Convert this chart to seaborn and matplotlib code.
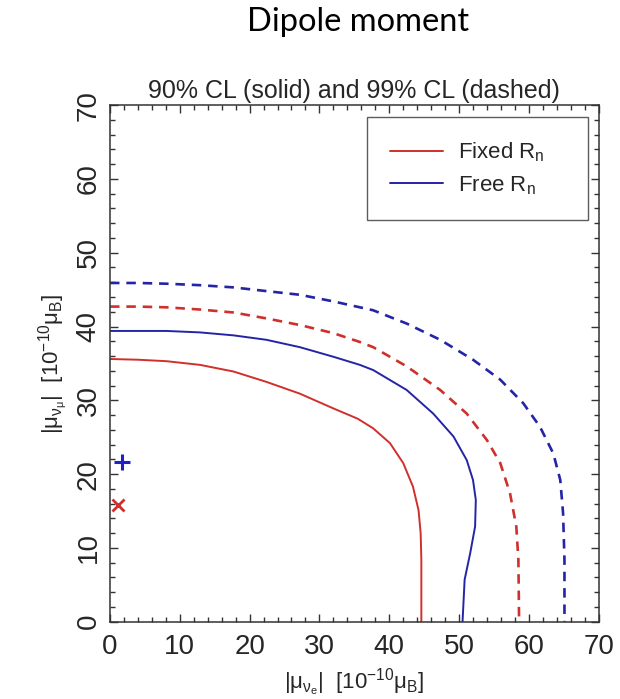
import numpy as np
import pandas as pd
import matplotlib
matplotlib.use("Agg")
import matplotlib.pyplot as plt
from matplotlib.lines import Line2D
from matplotlib.ticker import MultipleLocator
import seaborn as sns

# Allowed-region contours in the (|mu_nu_e|, |mu_nu_mu|) plane, units of 1e-10 mu_B
fixed90_x = [0, 4, 8.1, 12.9, 17.7, 22.4, 27.2, 32.0, 35.5, 37.7, 40.1, 42.0, 43.4, 44.2, 44.5, 44.6, 44.6]
fixed90_y = [35.6, 35.5, 35.3, 34.8, 33.9, 32.5, 30.9, 28.9, 27.5, 26.2, 24.2, 21.5, 18.3, 15.1, 12.0, 8.4, 0.0]

free90_x = [0, 4, 8.1, 12.9, 17.7, 22.4, 27.2, 32.0, 35.8, 37.7, 42.5, 46.3, 49.2, 51.1, 52.0, 52.4, 52.3,
            51.6, 50.8, 50.5]
free90_y = [39.4, 39.4, 39.4, 39.2, 38.8, 38.2, 37.2, 35.9, 34.8, 34.1, 31.4, 28.2, 25.1, 21.9, 19.2, 16.5, 12.9,
            9.3, 5.7, 0.0]

fixed99_x = [0, 4, 8.1, 12.9, 17.7, 22.4, 27.2, 32.0, 35.8, 37.7, 42.5, 47.3, 51.1, 54.0, 55.9, 57.3, 58.2,
             58.5, 58.6]
fixed99_y = [42.7, 42.7, 42.6, 42.3, 41.9, 41.1, 40.2, 39.1, 37.9, 37.2, 34.6, 31.4, 28.2, 24.6, 21.5, 17.4, 12.9,
             8.4, 0.0]

free99_x = [0, 4, 8.1, 12.9, 17.7, 22.4, 27.2, 32.0, 35.8, 37.7, 42.5, 47.3, 52.0, 55.9, 59.2, 61.6, 63.5,
            64.5, 64.9, 65.1, 65.1]
free99_y = [45.9, 45.9, 45.8, 45.6, 45.3, 44.8, 44.3, 43.4, 42.6, 42.2, 40.4, 38.2, 35.5, 32.8, 29.6, 26.4, 22.8,
            19.2, 14.7, 8.4, 0.0]

# Best-fit points
bestfit_fixed = (1.2, 15.8)
bestfit_free = (1.7, 21.6)

legend_labels = [r"Fixed R$_{\rm n}$", r"Free R$_{\rm n}$"]
RED = "#d0302c"
BLUE = "#2424a6"

frames = []
for model, cl, xs, ys in [("Fixed", "90%", fixed90_x, fixed90_y),
                          ("Free", "90%", free90_x, free90_y),
                          ("Fixed", "99%", fixed99_x, fixed99_y),
                          ("Free", "99%", free99_x, free99_y)]:
    frames.append(pd.DataFrame({"mue": xs, "mumu": ys, "model": model, "cl": cl}))
df = pd.concat(frames, ignore_index=True)

sns.set_theme(style="white")
plt.rcParams["font.family"] = ["Liberation Sans", "DejaVu Sans"]
plt.rcParams["mathtext.fontset"] = "custom"
plt.rcParams["mathtext.rm"] = "Liberation Sans"
plt.rcParams["mathtext.it"] = "Liberation Sans"
plt.rcParams["mathtext.bf"] = "Liberation Sans:bold"

fig = plt.figure(figsize=(6.2, 6.99), dpi=100)
ax = fig.add_axes([0.1774, 0.1106, 0.7882, 0.739])

sns.lineplot(data=df, x="mue", y="mumu", hue="model", style="cl", size="cl",
             palette={"Fixed": RED, "Free": BLUE},
             dashes={"90%": "", "99%": (3.6, 2.6)},
             sizes={"90%": 1.4, "99%": 1.9},
             sort=False, estimator=None, legend=False, ax=ax)

ax.plot(*bestfit_fixed, marker="x", color=RED, markersize=8, markeredgewidth=2, linestyle="none")
ax.plot(*bestfit_free, marker="+", color="#2020c8", markersize=11, markeredgewidth=2.2, linestyle="none")

ax.set_xlim(0, 70)
ax.set_ylim(0, 70)
ax.xaxis.set_major_locator(MultipleLocator(10))
ax.yaxis.set_major_locator(MultipleLocator(10))
ax.xaxis.set_minor_locator(MultipleLocator(2))
ax.yaxis.set_minor_locator(MultipleLocator(2))
ax.tick_params(which="both", direction="in", top=True, right=True, bottom=True, left=True,
               color="#333333", width=1.0)
ax.tick_params(which="major", length=6, labelsize=20)
ax.tick_params(which="minor", length=3.6)
ax.tick_params(axis="x", which="major", pad=9)
ax.tick_params(axis="y", which="major", pad=6)
for lab in ax.get_yticklabels():
    lab.set_rotation(90)
    lab.set_va("center")
for sp in ax.spines.values():
    sp.set_color("#333333")
    sp.set_linewidth(1.1)

ax.set_xlabel(r"$|\mu_{\nu_e}|$  [10$^{-10}\mu_{\rm B}$]", fontsize=16, labelpad=5)
ax.set_ylabel(r"$|\mu_{\nu_\mu}|$  [10$^{-10}\mu_{\rm B}$]", fontsize=16, labelpad=4)
ax.set_title("90% CL (solid) and 99% CL (dashed)", fontsize=18, pad=5)

fig.text(0.577, 0.9685, "Dipole moment", ha="center", va="center", fontsize=23.5,
         family=["Lato", "DejaVu Sans"], color="black")

handles = [Line2D([], [], color=RED, lw=1.4), Line2D([], [], color=BLUE, lw=1.4)]
leg = ax.legend(handles, legend_labels, loc="upper left", mode="expand",
                bbox_to_anchor=(0.526, 0.0, 0.452, 0.977), borderaxespad=0.0,
                fontsize=16, frameon=True, fancybox=False, handlelength=2.35,
                handletextpad=0.7, borderpad=1.05, labelspacing=0.45)
leg.get_frame().set_edgecolor("#333333")
leg.get_frame().set_linewidth(1.0)

fig.savefig("out.png", dpi=100)
